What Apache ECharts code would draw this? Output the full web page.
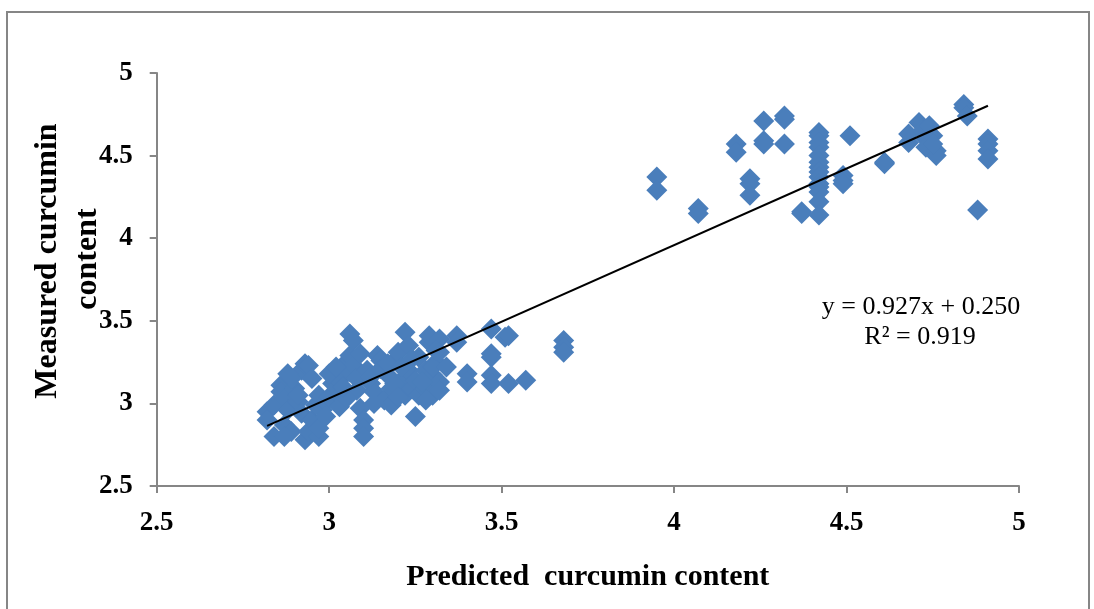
<!DOCTYPE html>
<html>
<head>
<meta charset="utf-8">
<title>Predicted vs measured curcumin content</title>
<script src="https://cdn.jsdelivr.net/npm/echarts@6/dist/echarts.min.js"></script>
<style>
  html, body { margin: 0; padding: 0; background: #ffffff; }
  #chart { width: 1094px; height: 609px; }
</style>
</head>
<body>
<div id="chart"></div>
<script>
// Predicted (x) and measured (y) curcumin content for each sample
const predicted = [
  2.82, 2.82, 2.84, 2.84, 2.86, 2.86, 2.87, 2.88, 2.87, 2.89,
  2.87, 2.90, 2.91, 2.92, 2.92, 2.93, 2.94, 2.93, 2.94, 2.95,
  2.96, 2.95, 2.97, 2.97, 2.97, 2.98, 2.99, 3.00, 3.01, 3.03,
  3.03, 3.05, 3.06, 3.06, 3.07, 3.06, 3.07, 3.08, 3.08, 3.09,
  3.10, 3.10, 3.10, 3.11, 3.12, 3.13, 3.14, 3.15, 3.16, 3.17,
  3.18, 3.18, 3.19, 3.20, 3.21, 3.22, 3.22, 3.23, 3.23, 3.24,
  3.25, 3.25, 3.26, 3.26, 3.28, 3.28, 3.29, 3.29, 3.30, 3.30,
  3.31, 3.32, 3.32, 3.32, 3.32, 3.28, 3.37, 3.37, 3.40, 3.40,
  2.89, 2.91, 3.03, 3.05,
  3.00, 3.02, 3.04, 3.09, 3.12, 3.15, 3.17, 3.19, 3.21, 3.24,
  3.27, 3.30, 3.31, 3.34, 2.99, 2.88, 3.13, 3.20,
  3.47, 3.47, 3.47, 3.47, 3.47, 3.51, 3.52, 3.52, 3.57, 3.68, 3.68, 3.68,
  3.95, 3.95, 4.07, 4.07, 4.18, 4.18, 4.22, 4.22, 4.22,
  4.26, 4.26, 4.26, 4.32, 4.32, 4.32, 4.37, 4.37,
  4.42, 4.42, 4.42, 4.42, 4.42, 4.42, 4.42, 4.42, 4.42, 4.42, 4.42, 4.42, 4.42, 4.42,
  4.49, 4.49, 4.49, 4.51, 4.61, 4.61, 4.68, 4.68,
  4.71, 4.72, 4.73, 4.73, 4.74, 4.75, 4.76, 4.76, 4.75,
  4.84, 4.84, 4.85, 4.88, 4.91, 4.91, 4.91, 4.91
];
const measured = [
  2.95, 2.90, 2.99, 2.80, 3.11, 3.07, 3.03, 2.96, 2.87, 2.83,
  2.80, 3.09, 3.01, 2.94, 3.20, 3.24, 3.23, 2.78, 2.83, 2.90,
  2.99, 3.15, 3.05, 2.80, 2.85, 2.96, 3.01, 3.04, 3.12, 3.14,
  3.05, 3.25, 3.29, 3.42, 3.38, 3.19, 3.23, 3.15, 3.08, 2.97,
  2.90, 2.85, 2.80, 3.20, 3.12, 3.07, 3.29, 3.26, 3.02, 3.17,
  2.99, 3.09, 3.26, 3.31, 3.14, 3.05, 3.43, 3.35, 3.20, 3.09,
  3.14, 2.92, 3.28, 3.05, 3.20, 3.09, 3.37, 3.41, 3.17, 3.05,
  3.25, 3.39, 3.31, 3.13, 3.08, 3.02, 3.41, 3.37, 3.18, 3.13,
  3.15, 3.05, 2.98, 3.03,
  3.18, 3.22, 3.10, 3.30, 3.16, 3.21, 3.24, 3.12, 3.22, 3.27,
  3.13, 3.22, 3.32, 3.22, 2.92, 3.18, 3.00, 3.04,
  3.45, 3.30, 3.28, 3.17, 3.12, 3.40, 3.41, 3.12, 3.14, 3.38, 3.34, 3.31,
  4.37, 4.29, 4.18, 4.15, 4.57, 4.52, 4.36, 4.33, 4.26,
  4.71, 4.59, 4.57, 4.74, 4.72, 4.57, 4.16, 4.15,
  4.64, 4.62, 4.58, 4.55, 4.50, 4.46, 4.43, 4.40, 4.37, 4.33, 4.31, 4.28, 4.22, 4.14,
  4.38, 4.35, 4.33, 4.62, 4.46, 4.45, 4.63, 4.58,
  4.70, 4.65, 4.60, 4.55, 4.68, 4.62, 4.53, 4.50, 4.57,
  4.81, 4.79, 4.74, 4.17, 4.60, 4.57, 4.53, 4.48
];

// Linear fit reported for the data
const fitSlope = 0.927;
const fitIntercept = 0.250;
const fitR2 = 0.919;

// Axis settings
const axisMin = 2.5;
const axisMax = 5;
const axisStep = 0.5;

const points = predicted.map((x, i) => [x, measured[i]]);
const xLo = Math.min(...predicted);
const xHi = Math.max(...predicted);
const trend = [[xLo, fitSlope * xLo + fitIntercept], [xHi, fitSlope * xHi + fitIntercept]];

const serif = '"Liberation Serif", "Times New Roman", serif';
const axisGray = '#868686';

const chart = echarts.init(document.getElementById('chart'), null, { renderer: 'canvas' });

chart.setOption({
  backgroundColor: '#ffffff',
  animation: false,
  grid: { left: 156.7, right: 75, top: 73, bottom: 123, containLabel: false },
  xAxis: {
    type: 'value',
    min: axisMin, max: axisMax, interval: axisStep,
    name: 'Predicted  curcumin content',
    nameLocation: 'middle',
    nameGap: 76,
    nameTextStyle: { fontFamily: serif, fontWeight: 'bold', fontSize: 30, color: '#000' },
    axisLine: { show: true, onZero: false, lineStyle: { color: axisGray, width: 2 } },
    axisTick: { show: true, inside: false, length: 7, lineStyle: { color: axisGray, width: 2 } },
    axisLabel: { fontFamily: serif, fontWeight: 'bold', fontSize: 27, color: '#000', margin: 24 },
    splitLine: { show: false }
  },
  yAxis: {
    type: 'value',
    min: axisMin, max: axisMax, interval: axisStep,
    axisLine: { show: true, onZero: false, lineStyle: { color: axisGray, width: 2 } },
    axisTick: { show: true, inside: false, length: 7, lineStyle: { color: axisGray, width: 2 } },
    axisLabel: { fontFamily: serif, fontWeight: 'bold', fontSize: 27, color: '#000', margin: 24 },
    splitLine: { show: false }
  },
  graphic: [
    {
      type: 'rect',
      silent: true,
      shape: { x: 7, y: 12, width: 1082, height: 640 },
      style: { fill: 'none', stroke: axisGray, lineWidth: 2 }
    },
    {
      type: 'text',
      x: 48, y: 261,
      rotation: Math.PI / 2,
      style: {
        text: 'Measured curcumin', fontFamily: serif, fontWeight: 'bold', fontSize: 32,
        fill: '#000', align: 'center', verticalAlign: 'middle'
      }
    },
    {
      type: 'text',
      x: 88, y: 259,
      rotation: Math.PI / 2,
      style: {
        text: 'content', fontFamily: serif, fontWeight: 'bold', fontSize: 32,
        fill: '#000', align: 'center', verticalAlign: 'middle'
      }
    },
    {
      type: 'text',
      x: 921, y: 307,
      style: {
        text: 'y = ' + fitSlope.toFixed(3) + 'x + ' + fitIntercept.toFixed(3),
        fontFamily: serif, fontSize: 26, fill: '#000', align: 'center', verticalAlign: 'middle'
      }
    },
    {
      type: 'text',
      x: 920, y: 337,
      style: {
        text: 'R\u00B2 = ' + fitR2.toFixed(3),
        fontFamily: serif, fontSize: 26, fill: '#000', align: 'center', verticalAlign: 'middle'
      }
    }
  ],
  series: [
    {
      type: 'scatter',
      data: points,
      symbol: 'diamond',
      symbolSize: 21,
      itemStyle: { color: '#4A7EBB', opacity: 1 },
      z: 2
    },
    {
      type: 'line',
      data: trend,
      symbol: 'none',
      lineStyle: { color: '#000000', width: 2 },
      z: 3
    }
  ]
});
</script>
</body>
</html>
